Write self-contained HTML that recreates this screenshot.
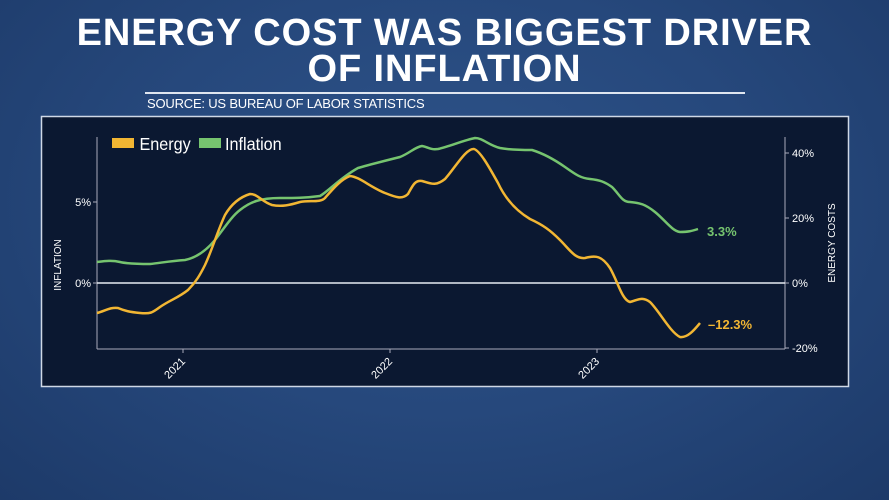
<!DOCTYPE html>
<html><head><meta charset="utf-8"><style>
html,body{margin:0;padding:0}
body{width:889px;height:500px;overflow:hidden;position:relative;font-family:"Liberation Sans",sans-serif;
background:radial-gradient(ellipse at 50% 40%,#2e5389 0%,#26487c 50%,#1d3a69 100%);}
.t{position:absolute;left:0;width:889px;text-align:center;color:#fff;font-weight:bold;font-size:38px;letter-spacing:0.9px;line-height:36px}
</style></head><body>
<div class="t" style="top:15px">ENERGY COST WAS BIGGEST DRIVER</div>
<div class="t" style="top:51px">OF INFLATION</div>
<div style="position:absolute;left:145px;top:92px;width:600px;height:2px;background:#dfe6f0"></div>
<div style="position:absolute;left:147px;top:96px;color:#fff;font-size:13px;letter-spacing:-0.2px">SOURCE: US BUREAU OF LABOR STATISTICS</div>
<svg style="position:absolute;left:0;top:0" width="889" height="500">
<rect x="41.5" y="116.5" width="807" height="270" fill="#0b1831" stroke="#cfd8e6" stroke-width="1.5"/>
<line x1="97" y1="137" x2="97" y2="349" stroke="#aab" stroke-width="1"/>
<line x1="785" y1="137" x2="785" y2="349" stroke="#aab" stroke-width="1"/>
<line x1="97" y1="349" x2="785" y2="349" stroke="#aab" stroke-width="1"/>
<line x1="97" y1="283" x2="785" y2="283" stroke="#e8ecf2" stroke-width="1.5"/>
<g stroke="#aab"><line x1="183" y1="349" x2="183" y2="353"/><line x1="390" y1="349" x2="390" y2="353"/><line x1="597" y1="349" x2="597" y2="353"/>
<line x1="93" y1="202" x2="97" y2="202"/><line x1="93" y1="283" x2="97" y2="283"/>
<line x1="785" y1="153" x2="789" y2="153"/><line x1="785" y1="218" x2="789" y2="218"/><line x1="785" y1="283" x2="789" y2="283"/><line x1="785" y1="348" x2="789" y2="348"/></g>
<g fill="#fff" font-size="11" font-family="Liberation Sans">
<text x="91" y="206" text-anchor="end">5%</text><text x="91" y="287" text-anchor="end">0%</text>
<text x="792" y="157">40%</text><text x="792" y="222">20%</text><text x="792" y="287">0%</text><text x="792" y="352">-20%</text>
<text transform="translate(186,362) rotate(-45)" text-anchor="end">2021</text>
<text transform="translate(393,362) rotate(-45)" text-anchor="end">2022</text>
<text transform="translate(600,362) rotate(-45)" text-anchor="end">2023</text>
<text transform="translate(61,265) rotate(-90)" text-anchor="middle" font-size="10">INFLATION</text>
<text transform="translate(835,243) rotate(-90)" text-anchor="middle" font-size="10">ENERGY COSTS</text>
</g>
<path fill="none" stroke="#76c46f" stroke-width="2.5" stroke-linejoin="round" d="M97,262 C105,261 112,260 120,262 C128,264 140,264 150,264 C160,263 170,261 185,260 C195,258 205,252 215,240 C225,227 232,216 240,210 C250,202 260,198 280,198 C295,198 305,198 320,196 C330,190 340,178 358,168 C368,165 380,162 400,157 C410,153 415,147 422,146 C428,147 430,150 438,149 C450,146 465,140 475,138 C483,138 488,145 500,148 C510,150 525,150 532,150 C545,154 555,160 565,167 C575,174 580,178 590,179 C600,180 605,182 612,187 C620,195 622,202 630,202 C640,203 645,204 655,212 C665,220 672,231 680,232 C688,232 692,231 698,229"/>
<path fill="none" stroke="#f2b633" stroke-width="2.5" stroke-linejoin="round" d="M97,313 C105,311 110,307 118,308 C125,311 130,312 140,313 C150,314 152,313 160,307 C170,300 178,298 188,290 C196,282 200,275 205,265 C212,250 218,230 225,215 C232,203 240,197 250,194 C258,194 262,202 272,205 C282,207 290,205 300,202 C310,200 320,203 325,198 C332,190 340,180 350,176 C360,177 370,187 385,193 C395,197 402,200 408,194 C413,185 415,180 422,181 C430,183 435,187 445,179 C455,168 466,148 474,149 C480,151 488,165 498,183 C505,198 515,210 530,219 C543,225 550,230 560,240 C570,250 575,259 585,258 C596,255 602,256 610,268 C618,282 622,300 630,302 C638,300 642,296 650,302 C660,312 670,332 680,337 C688,338 695,329 700,323"/>
<rect x="112" y="138" width="22" height="10" fill="#f2b633"/>
<text x="140" y="150" fill="#fff" font-size="18" font-family="Liberation Sans" transform="scale(0.9,1) translate(15,0)">Energy</text>
<rect x="199" y="138" width="22" height="10" fill="#76c46f"/>
<text x="225" y="150" fill="#fff" font-size="18" font-family="Liberation Sans" transform="scale(0.9,1) translate(25,0)">Inflation</text>
<text x="707" y="236" fill="#76c46f" font-size="13" font-weight="bold" font-family="Liberation Sans">3.3%</text>
<text x="708" y="329" fill="#f2b633" font-size="13" font-weight="bold" font-family="Liberation Sans">–12.3%</text>
</svg>
</body></html>
